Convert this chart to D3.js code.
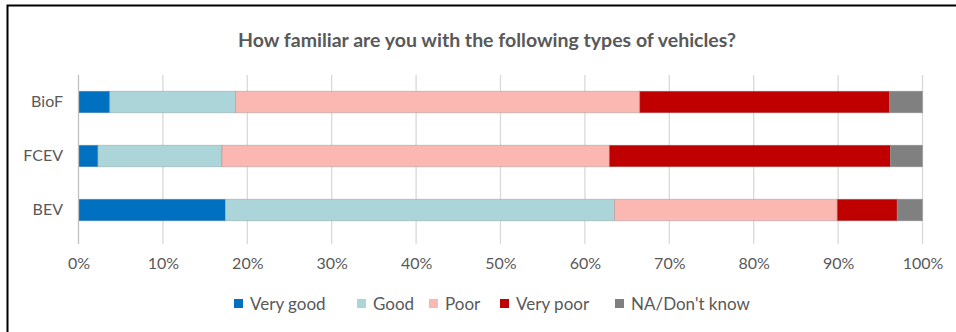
<!DOCTYPE html>
<html>
<head>
<meta charset="utf-8">
<script src="https://cdn.jsdelivr.net/npm/d3@7"></script>
<style>
  html, body { margin: 0; padding: 0; background: #fff; }
  svg { display: block; }
  text { font-family: Lato, "Open Sans", sans-serif; }
</style>
</head>
<body>
<svg id="chart" width="956" height="332"></svg>
<script>
const categories = ["BioF", "FCEV", "BEV"];
const seriesNames = ["Very good", "Good", "Poor", "Very poor", "NA/Don't know"];
const veryGood  = [3.7, 2.3, 17.4];
const good      = [14.9, 14.7, 46.1];
const poor      = [47.9, 45.9, 26.4];
const veryPoor  = [29.6, 33.3, 7.1];
const naDontKnow= [3.9, 3.8, 3.0];
const tickValues = [0, 10, 20, 30, 40, 50, 60, 70, 80, 90, 100];
const colors = ["#0070C0", "#ABD5D8", "#FBB7B1", "#C00000", "#808080"];
const chartTitle = "How familiar are you with the following types of vehicles?";

(function () {
const seriesValues = [veryGood, good, poor, veryPoor, naDontKnow];
const rows = categories.map((c, i) => {
  const r = { cat: c };
  seriesNames.forEach((s, j) => r[s] = seriesValues[j][i]);
  return r;
});
const stacked = d3.stack().keys(seriesNames)(rows);

const svg = d3.select("#chart");
const pLeft = 78.5, pRight = 922.5, pTop = 75, pBottom = 237;

const x = d3.scaleLinear().domain([0, 100]).range([pLeft, pRight]);
const y = d3.scaleBand().domain(categories).range([pTop, pBottom]).paddingInner(0.6).paddingOuter(0.3);
const color = d3.scaleOrdinal().domain(seriesNames).range(colors);

// frame
svg.append("path").attr("d", `M7.5,340 L7.5,5.5 L960,5.5`).attr("fill", "none").attr("stroke", "#000").attr("stroke-width", 2);

// title
svg.append("text").attr("x", 487).attr("y", 47).attr("text-anchor", "middle")
  .attr("font-size", 19.5).attr("font-weight", "bold").attr("fill", "#595959").text(chartTitle);

// gridlines
svg.append("g").selectAll("line").data(tickValues.slice(1)).join("line")
  .attr("x1", d => x(d)).attr("x2", d => x(d))
  .attr("y1", pTop).attr("y2", pBottom + 7)
  .attr("stroke", "#d9d9d9").attr("stroke-width", 1.3);

// bars
svg.append("g").selectAll("g").data(stacked).join("g")
  .attr("fill", d => color(d.key))
  .selectAll("rect").data(d => d).join("rect")
  .attr("x", d => x(d[0])).attr("width", d => x(d[1]) - x(d[0]))
  .attr("y", d => y(d.data.cat)).attr("height", y.bandwidth())
  .attr("stroke", "rgba(140,140,140,0.45)").attr("stroke-width", 0.8);

// category axis line
svg.append("line").attr("x1", x(0)).attr("x2", x(0)).attr("y1", pTop).attr("y2", pBottom + 7)
  .attr("stroke", "#bfbfbf").attr("stroke-width", 1.3);

// x axis labels
const xAxis = d3.axisBottom(x).tickValues(tickValues).tickFormat(d => d + "%").tickSize(0).tickPadding(0);
const gx = svg.append("g").attr("transform", `translate(0, 269)`).call(xAxis);
gx.select(".domain").remove();
gx.selectAll("text").attr("font-size", 16).attr("fill", "#595959").attr("dy", 0).attr("font-family", "Lato, sans-serif");

// y axis labels
const yAxis = d3.axisLeft(y).tickSize(0).tickPadding(0);
const gy = svg.append("g").attr("transform", `translate(63, 0)`).call(yAxis);
gy.select(".domain").remove();
gy.selectAll("text").attr("font-size", 16).attr("fill", "#595959").attr("font-family", "Lato, sans-serif");

// legend
const legendX = [234, 357, 429, 500, 615];
const lg = svg.append("g").selectAll("g").data(seriesNames).join("g")
  .attr("transform", (d, i) => `translate(${legendX[i]}, 304)`);
lg.append("rect").attr("x", 0).attr("y", -5).attr("width", 9).attr("height", 9).attr("fill", d => color(d));
lg.append("text").attr("x", 16).attr("y", 5.5).attr("font-size", 17).attr("fill", "#595959").text(d => d);
})();
</script>
</body>
</html>
